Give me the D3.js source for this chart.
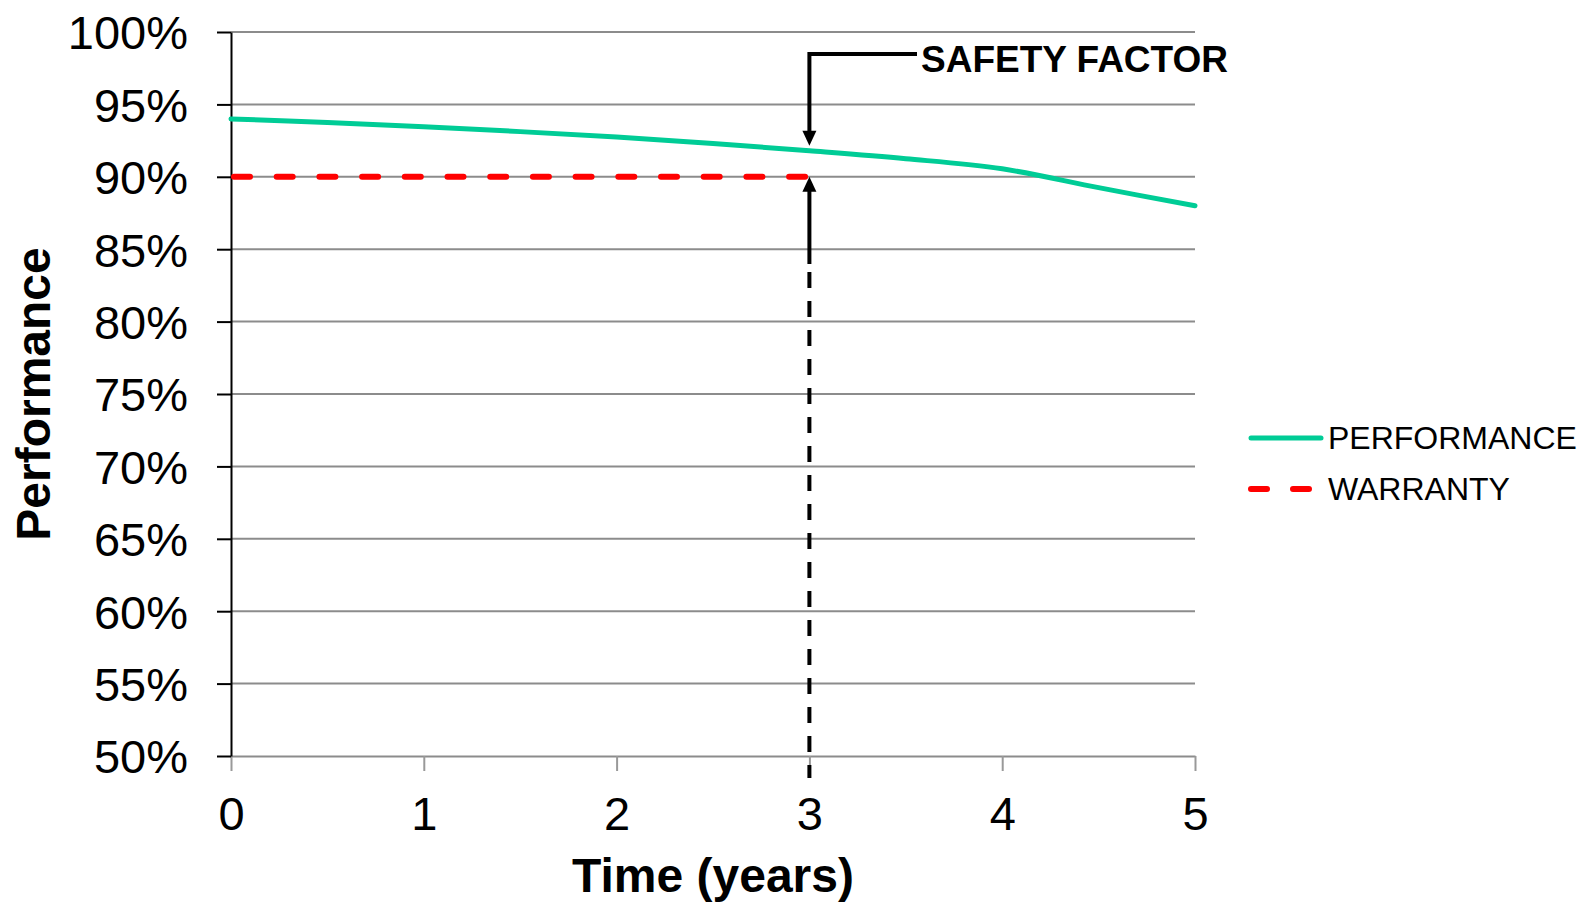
<!DOCTYPE html>
<html><head><meta charset="utf-8">
<script src="https://cdn.jsdelivr.net/npm/d3@7"></script>
<style>body{margin:0;background:#fff;} svg{display:block;font-family:"Liberation Sans",Arial,sans-serif;}</style>
</head><body>
<svg id="c" width="1578" height="903"></svg>
<script>
const perfYears = [0,0.5,1,1.5,2,2.5,3,3.5,4,4.5,5];
const perfValues = [94.0,93.75,93.45,93.12,92.75,92.3,91.8,91.25,90.55,89.25,88.0];
const warrantyYears = [0,3];
const warrantyValues = [90,90];
const yTicks = [50,55,60,65,70,75,80,85,90,95,100];
const xTicks = [0,1,2,3,4,5];
const safetyYear = 3;
const seriesNames = ["PERFORMANCE","WARRANTY"];
const annotationText = "SAFETY FACTOR";

const svg = d3.select("#c");
const x = d3.scaleLinear().domain([0,5]).range([231,1195]);
const y = d3.scaleLinear().domain([50,100]).range([756,32]);
const green = "#00CC96", red = "#FF0000";

// gridlines
svg.append("g").selectAll("line").data(yTicks.filter(d=>d>50)).join("line")
  .attr("x1",x(0)).attr("x2",x(5)).attr("y1",d=>y(d)).attr("y2",d=>y(d))
  .attr("stroke","#8c8c8c").attr("stroke-width",2);

// x axis
const xg = svg.append("g").attr("transform",`translate(0,${y(50)})`)
  .call(d3.axisBottom(x).tickValues(xTicks).tickSize(15).tickSizeOuter(0).tickFormat(d3.format("d")));
xg.select(".domain").attr("stroke","#8c8c8c").attr("stroke-width",2);
xg.selectAll(".tick line").attr("stroke","#999").attr("stroke-width",2);
xg.selectAll(".tick text").attr("font-size",47).attr("fill","#000").attr("dy",0).attr("y",74)
  .attr("font-family","'Liberation Sans',Arial,sans-serif");

// y axis
const yg = svg.append("g").attr("transform",`translate(${x(0)},0)`)
  .call(d3.axisLeft(y).tickValues(yTicks).tickSize(14).tickSizeOuter(0).tickFormat(d=>d+"%"));
yg.select(".domain").attr("stroke","#000").attr("stroke-width",2);
yg.selectAll(".tick line").attr("stroke","#000").attr("stroke-width",2);
yg.selectAll(".tick text").attr("font-size",47).attr("fill","#000").attr("x",-43).attr("dy","0.36em")
  .attr("font-family","'Liberation Sans',Arial,sans-serif");

// performance line
const line = d3.line().x(d=>x(d[0])).y(d=>y(d[1])).curve(d3.curveCatmullRom.alpha(0.5));
svg.append("path").datum(perfYears.map((t,i)=>[t,perfValues[i]]))
  .attr("d",line).attr("fill","none").attr("stroke",green).attr("stroke-width",5).attr("stroke-linecap","round");

// warranty line
svg.append("path").datum(warrantyYears.map((t,i)=>[t,warrantyValues[i]]))
  .attr("d",d3.line().x(d=>x(d[0])).y(d=>y(d[1])))
  .attr("fill","none").attr("stroke",red).attr("stroke-width",6)
  .attr("stroke-dasharray","16 26.7").attr("stroke-dashoffset",-3).attr("stroke-linecap","round");

// annotation: dashed drop line at safety year
const sx = x(safetyYear);
const perfAtSafety = perfValues[perfYears.indexOf(safetyYear)];
svg.append("line").attr("x1",sx).attr("x2",sx).attr("y1",264).attr("y2",y(50)+22)
  .attr("stroke","#000").attr("stroke-width",4).attr("stroke-dasharray","16 13").attr("stroke-dashoffset",-8);
// up arrow to warranty
svg.append("line").attr("x1",sx).attr("x2",sx).attr("y1",264).attr("y2",y(90)+8)
  .attr("stroke","#000").attr("stroke-width",4);
svg.append("path").attr("d",`M${sx},${y(90)} L${sx-7},${y(90)+15} L${sx+7},${y(90)+15} Z`).attr("fill","#000");
// down arrow from label to performance
svg.append("path").attr("d",`M917,54 H${sx} V${y(perfAtSafety)-12}`)
  .attr("fill","none").attr("stroke","#000").attr("stroke-width",4);
svg.append("path").attr("d",`M${sx},${y(perfAtSafety)-5} L${sx-7},${y(perfAtSafety)-20} L${sx+7},${y(perfAtSafety)-20} Z`).attr("fill","#000");
svg.append("text").attr("x",921).attr("y",72).attr("font-size",37).attr("font-weight","bold")
  .text(annotationText);

// axis titles
svg.append("text").attr("x",713).attr("y",892).attr("text-anchor","middle")
  .attr("font-size",48).attr("font-weight","bold").text("Time (years)");
svg.append("text").attr("transform","translate(50,394) rotate(-90)").attr("text-anchor","middle")
  .attr("font-size",48).attr("font-weight","bold").text("Performance");

// legend
const lg = svg.append("g");
lg.append("line").attr("x1",1251).attr("x2",1321).attr("y1",438).attr("y2",438)
  .attr("stroke",green).attr("stroke-width",5).attr("stroke-linecap","round");
lg.append("line").attr("x1",1251).attr("x2",1321).attr("y1",489).attr("y2",489)
  .attr("stroke",red).attr("stroke-width",6).attr("stroke-linecap","round").attr("stroke-dasharray","16 26");
lg.selectAll("text").data(seriesNames).join("text")
  .attr("x",1328).attr("y",(d,i)=>449+i*51).attr("font-size",32).text(d=>d);
</script>
</body></html>
